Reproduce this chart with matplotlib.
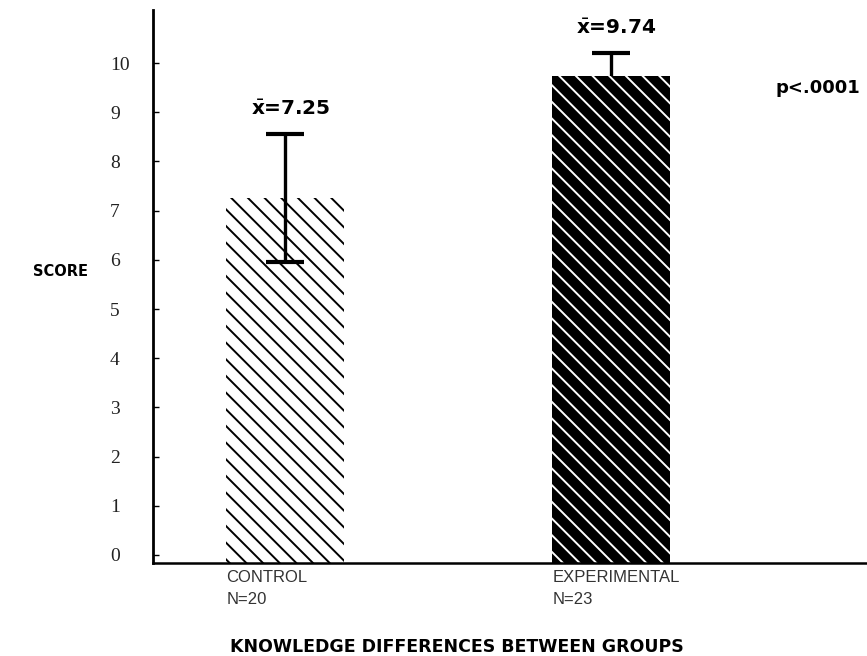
import numpy as np
from matplotlib import pyplot as plt

# donnees
groups = ['CONTROL\nN=20', 'EXPERIMENTAL\nN=23']
means = [7.25, 9.74]
errs = [1.3, 0.46]
mean_labels = [r'$\bar{\mathbf{x}}$=7.25', r'$\bar{\mathbf{x}}$=9.74']
yticks = list(range(11))

plt.rcParams['hatch.linewidth'] = 1.4

fig = plt.figure(figsize=(8.67, 6.56), dpi=100)
ax = fig.add_axes([153/867, 1 - 563/656, 1 - 153/867, (563 - 10)/656])

ybot = -0.163
ax.set_xlim(-0.405, 1.785)
ax.set_ylim(ybot, 11.08)

x = np.arange(len(groups))
width = 0.36
heights = np.array(means) - ybot

# barre controle : hachures noires sur fond blanc
ax.bar(x[0], heights[0], width, bottom=ybot, color='white', edgecolor='black',
       linewidth=0, hatch='\\\\', zorder=2)
# barre experimentale : fond noir, hachures blanches
ax.bar(x[1], heights[1], width, bottom=ybot, color='black', edgecolor='white',
       linewidth=0, hatch='\\\\', zorder=2)

# la barre d'erreur experimentale passe sous la barre noire
ez = [3, 1]
for i in range(len(x)):
    ax.errorbar(x[i], means[i], yerr=errs[i], fmt='none', ecolor='black',
                elinewidth=2.4, capsize=14, capthick=3, zorder=ez[i])

for i in range(len(x)):
    ax.annotate(mean_labels[i], (x[i], means[i] + errs[i]), xytext=(4, 11),
                textcoords='offset points', ha='center', va='bottom',
                fontsize=14.5, fontweight='bold')

ax.text(818/867, 1 - 88/656, 'p<.0001', transform=fig.transFigure, ha='center',
        va='center', fontsize=13, fontweight='bold')

ax.spines['top'].set_visible(False)
ax.spines['right'].set_visible(False)
ax.spines['left'].set_linewidth(2)
ax.spines['bottom'].set_linewidth(1.8)

ax.set_yticks(yticks)
ax.set_yticklabels([str(v) for v in yticks], family='Liberation Serif', fontsize=14,
                   color='#222222')
for lab in ax.get_yticklabels():
    lab.set_ha('left')
ax.tick_params(axis='y', direction='in', length=4, width=1, pad=31)

ax.set_xticks(x - width/2)
ax.set_xticklabels(groups, ha='left', family='Liberation Sans', fontsize=12,
                   color='#333333', linespacing=1.55)
ax.tick_params(axis='x', length=0, pad=5)

fig.text(60/867, 1 - 272/656, 'SCORE', ha='center', va='center', fontsize=10.5,
         fontweight='bold')
fig.text(457/867, 1 - 647/656, 'KNOWLEDGE DIFFERENCES BETWEEN GROUPS', ha='center',
         va='center', fontsize=12.5, fontweight='bold')

fig.savefig('out.png', dpi=100)
